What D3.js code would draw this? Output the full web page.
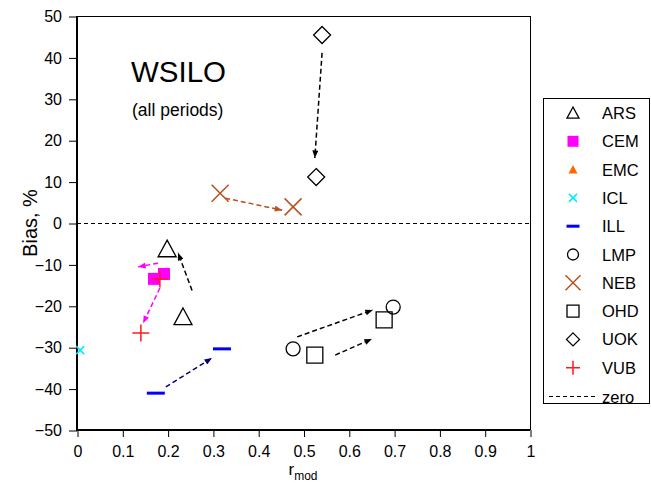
<!DOCTYPE html>
<html>
<head>
<meta charset="utf-8">
<script src="https://cdn.jsdelivr.net/npm/d3@7"></script>
<style>
  body { margin: 0; background: #fff; }
  svg { display: block; font-family: "Liberation Sans", Arial, Helvetica, sans-serif; }
</style>
</head>
<body>
<svg id="chart" width="651" height="485"></svg>
<script>
// Stations and their (r_mod, bias) pairs, one pair per period
const stations = ["ARS", "CEM", "EMC", "ICL", "ILL", "LMP", "NEB", "OHD", "UOK", "VUB"];
const rmodValues = [
  [0.199, 0.234],   // ARS
  [0.170, 0.192],   // CEM
  [],               // EMC
  [0.007],          // ICL
  [0.320, 0.174],   // ILL
  [0.477, 0.698],   // LMP
  [0.316, 0.477],   // NEB
  [0.525, 0.678],   // OHD
  [0.541, 0.528],   // UOK
  [0.183, 0.141]    // VUB
];
const biasValues = [
  [-6.3, -22.7],
  [-13.5, -12.3],
  [],
  [-30.7],
  [-30.4, -41.1],
  [-30.4, -20.3],
  [7.2, 3.9],
  [-31.9, -23.4],
  [45.4, 11.1],
  [-13.5, -26.6]
];

// Change arrows between periods: start and end in (r_mod, bias)
const arrowStation = ["ARS", "CEM", "VUB", "ILL", "LMP", "OHD", "UOK", "NEB"];
const arrowFromR   = [0.254, 0.179, 0.183, 0.196, 0.486, 0.570, 0.541, 0.327];
const arrowFromB   = [-16.3, -9.7, -15.7, -39.6, -27.5, -31.9, 41.1, 6.0];
const arrowToR     = [0.223, 0.135, 0.146, 0.298, 0.653, 0.651, 0.525, 0.453];
const arrowToB     = [-7.2, -10.6, -24.2, -32.6, -21.0, -28.0, 15.7, 3.1];

const xTicks = [0, 0.1, 0.2, 0.3, 0.4, 0.5, 0.6, 0.7, 0.8, 0.9, 1];
const xTickLabels = ["0", "0.1", "0.2", "0.3", "0.4", "0.5", "0.6", "0.7", "0.8", "0.9", "1"];
const yTicks = [-50, -40, -30, -20, -10, 0, 10, 20, 30, 40, 50];

// Marker styles per station
const style = {
  ARS: { shape: "triangle", stroke: "#000", fill: "none" },
  CEM: { shape: "square", stroke: "none", fill: "#ff00ff" },
  EMC: { shape: "triangle", stroke: "none", fill: "#ff6600" },
  ICL: { shape: "cross", stroke: "#00e8ff", fill: "none" },
  ILL: { shape: "dash", stroke: "none", fill: "#0000ff" },
  LMP: { shape: "circle", stroke: "#000", fill: "none" },
  NEB: { shape: "cross", stroke: "#b8501f", fill: "none" },
  OHD: { shape: "square", stroke: "#000", fill: "none" },
  UOK: { shape: "diamond", stroke: "#000", fill: "none" },
  VUB: { shape: "plus", stroke: "#ff1a1a", fill: "none" }
};
// Marker sizes in the plot and in the legend (half-extent, px)
const plotSize = { ARS: 9, CEM: 6, EMC: 5, ICL: 4, ILL: 9, LMP: 7, NEB: 8.5, OHD: 8, UOK: 8.5, VUB: 8.5 };
const legendSize = { ARS: 6, CEM: 5.5, EMC: 4.5, ICL: 4, ILL: 6.5, LMP: 5.5, NEB: 7.5, OHD: 6, UOK: 6.5, VUB: 7 };
const arrowColor = { ARS: "#000", CEM: "#ff00ff", VUB: "#ff00ff", ILL: "#000080", LMP: "#000", OHD: "#000", UOK: "#000", NEB: "#b8501f" };

const svg = d3.select("#chart");
const x = d3.scaleLinear().domain([0, 1]).range([77, 530]);
const y = d3.scaleLinear().domain([-50, 50]).range([430, 16]);

function symbolPath(shape, s) {
  switch (shape) {
    case "triangle": return `M0,${-s}L${s},${s * 0.85}L${-s},${s * 0.85}Z`;
    case "square": return `M${-s},${-s}H${s}V${s}H${-s}Z`;
    case "diamond": return `M0,${-s}L${s},0L0,${s}L${-s},0Z`;
    case "cross": return `M${-s},${-s}L${s},${s}M${-s},${s}L${s},${-s}`;
    case "plus": return `M${-s},0H${s}M0,${-s}V${s}`;
    case "dash": return `M${-s},-1.5H${s}V1.5H${-s}Z`;
    case "circle": return d3.arc()({ innerRadius: 0, outerRadius: s, startAngle: 0, endAngle: 2 * Math.PI });
  }
}

function drawMarker(g, name, cx, cy, s) {
  const st = style[name];
  g.append("path")
    .attr("transform", `translate(${cx},${cy})`)
    .attr("d", symbolPath(st.shape, s))
    .attr("fill", st.fill)
    .attr("stroke", st.stroke)
    .attr("stroke-width", st.shape === "cross" || st.shape === "plus" ? 1.5 : 1.3);
}

// Axes
const yAxis = d3.axisLeft(y).tickValues(yTicks).tickSize(8).tickPadding(7).tickFormat(d3.format("d"));
const xAxis = d3.axisBottom(x).tickValues(xTicks).tickSize(7).tickPadding(9)
  .tickFormat((d, i) => xTickLabels[i]);

const gy = svg.append("g").attr("transform", `translate(${x(0)},0.5)`).call(yAxis);
const gx = svg.append("g").attr("transform", `translate(0.5,${y(-50)})`).call(xAxis);
[gx, gy].forEach(g => {
  g.select(".domain").remove();
  g.selectAll("text").attr("font-size", 16).attr("fill", "#000")
    .attr("font-family", "Liberation Sans, Arial, sans-serif");
  g.selectAll("line").attr("stroke", "#000");
});

// Plot frame
svg.append("line").attr("x1", x(0)).attr("x2", x(1)).attr("y1", y(50) + 0.5).attr("y2", y(50) + 0.5).attr("stroke", "#000").attr("stroke-width", 1);
svg.append("line").attr("x1", x(1) + 0.5).attr("x2", x(1) + 0.5).attr("y1", y(50)).attr("y2", y(-50)).attr("stroke", "#000").attr("stroke-width", 1);
svg.append("line").attr("x1", x(0)).attr("x2", x(0)).attr("y1", y(50)).attr("y2", y(-50)).attr("stroke", "#000").attr("stroke-width", 2);
svg.append("line").attr("x1", x(0) - 1).attr("x2", x(1)).attr("y1", y(-50)).attr("y2", y(-50)).attr("stroke", "#000").attr("stroke-width", 2);

// Zero reference line
svg.append("line").attr("x1", x(0)).attr("x2", x(1)).attr("y1", y(0) + 0.5).attr("y2", y(0) + 0.5)
  .attr("stroke", "#000").attr("stroke-width", 1).attr("stroke-dasharray", "4,3");

// Axis titles
svg.append("text").attr("transform", `translate(36.5,${(y(50) + y(-50)) / 2}) rotate(-90)`)
  .attr("text-anchor", "middle").attr("font-size", 20).text("Bias, %");
const xl = svg.append("text").attr("x", 303).attr("y", 475).attr("text-anchor", "middle").attr("font-size", 17);
xl.append("tspan").text("r");
xl.append("tspan").attr("font-size", 12).attr("dy", 5).text("mod");

// Chart title
svg.append("text").attr("x", 131).attr("y", 82).attr("font-size", 29.5).text("WSILO");
svg.append("text").attr("x", 132).attr("y", 116).attr("font-size", 17.5).text("(all periods)");

// Arrow heads
const defs = svg.append("defs");
const colorKeys = Array.from(new Set(Object.values(arrowColor)));
colorKeys.forEach((c, i) => {
  defs.append("marker").attr("id", "ah" + i)
    .attr("viewBox", "0 -4 10 8").attr("refX", 10).attr("refY", 0)
    .attr("markerWidth", 8).attr("markerHeight", 6).attr("markerUnits", "userSpaceOnUse")
    .attr("orient", "auto")
    .append("path").attr("d", "M0,-4L10,0L0,4Z").attr("fill", c);
});

// Markers (CEM drawn before VUB so the crosses sit on top)
const order = ["ARS", "CEM", "EMC", "ICL", "ILL", "LMP", "NEB", "OHD", "UOK", "VUB"];
const gm = svg.append("g");
order.forEach(name => {
  const i = stations.indexOf(name);
  rmodValues[i].forEach((r, j) => drawMarker(gm, name, x(r), y(biasValues[i][j]), plotSize[name]));
});

// Arrows
arrowStation.forEach((name, i) => {
  const c = arrowColor[name];
  svg.append("line")
    .attr("x1", x(arrowFromR[i])).attr("y1", y(arrowFromB[i]))
    .attr("x2", x(arrowToR[i])).attr("y2", y(arrowToB[i]))
    .attr("stroke", c).attr("stroke-width", 1.5).attr("stroke-dasharray", "5,3")
    .attr("marker-end", `url(#ah${colorKeys.indexOf(c)})`);
});

// Legend
const lg = svg.append("g");
lg.append("rect").attr("x", 543.5).attr("y", 98.5).attr("width", 106).attr("height", 305)
  .attr("fill", "#fff").attr("stroke", "#000").attr("stroke-width", 1);
stations.forEach((name, i) => {
  const cy = 113 + i * 28.3;
  drawMarker(lg, name, 573, cy, legendSize[name]);
  lg.append("text").attr("x", 602).attr("y", cy + 6).attr("font-size", 16.5).text(name);
});
const zy = Math.round(113 + 10 * 28.3) + 0.5;
lg.append("line").attr("x1", 549).attr("x2", 595).attr("y1", zy).attr("y2", zy)
  .attr("stroke", "#000").attr("stroke-width", 1).attr("stroke-dasharray", "4,3");
lg.append("text").attr("x", 602).attr("y", zy + 6).attr("font-size", 16.5).text("zero");
</script>
</body>
</html>
